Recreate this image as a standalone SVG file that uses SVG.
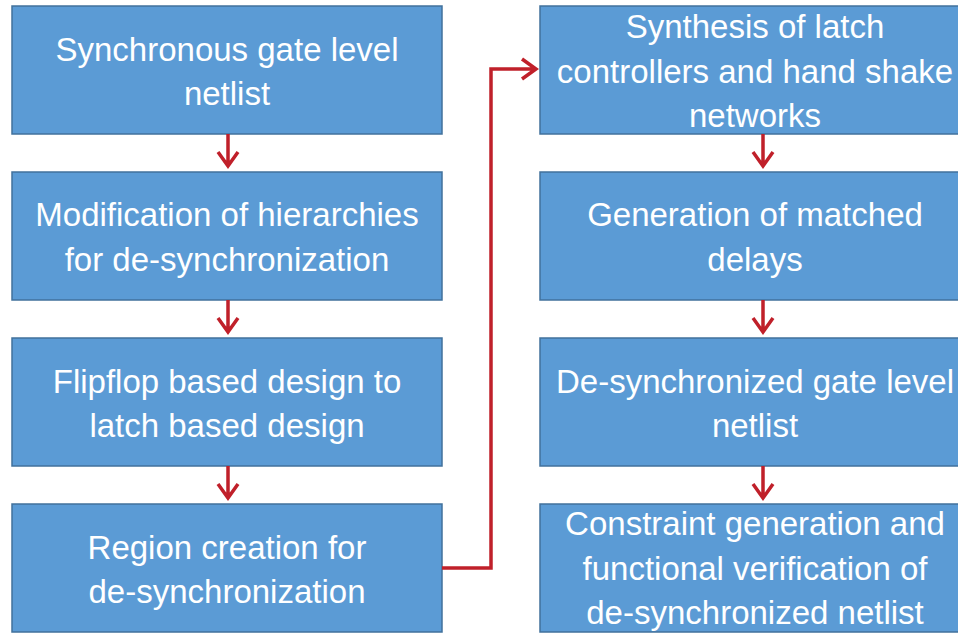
<svg xmlns="http://www.w3.org/2000/svg" width="958" height="634" viewBox="0 0 958 634">
  <style>
    .box { fill: #5B9BD5; stroke: #41719C; stroke-width: 1.5; }
    .lbl { font-family: "Liberation Sans", Arial, sans-serif; font-size: 33px; fill: #FFFFFF; text-anchor: middle; }
    .wire { fill: none; stroke: #C0202A; stroke-width: 3.5; }
  </style>
  <rect width="958" height="634" fill="#FFFFFF"/>

  <!-- left column -->
  <g id="n1">
    <rect class="box" x="12" y="6" width="430" height="128"/>
    <text class="lbl" x="227" y="61">Synchronous gate level</text>
    <text class="lbl" x="227" y="105">netlist</text>
  </g>
  <g id="n2">
    <rect class="box" x="12" y="172" width="430" height="128"/>
    <text class="lbl" x="227" y="226">Modification of hierarchies</text>
    <text class="lbl" x="227" y="271">for de-synchronization</text>
  </g>
  <g id="n3">
    <rect class="box" x="12" y="338" width="430" height="128"/>
    <text class="lbl" x="227" y="393">Flipflop based design to</text>
    <text class="lbl" x="227" y="437">latch based design</text>
  </g>
  <g id="n4">
    <rect class="box" x="12" y="504" width="430" height="128"/>
    <text class="lbl" x="227" y="559">Region creation for</text>
    <text class="lbl" x="227" y="603">de-synchronization</text>
  </g>

  <!-- right column -->
  <g id="n5">
    <rect class="box" x="540" y="6" width="430" height="128"/>
    <text class="lbl" x="755" y="38">Synthesis of latch</text>
    <text class="lbl" x="755" y="83">controllers and hand shake</text>
    <text class="lbl" x="755" y="127">networks</text>
  </g>
  <g id="n6">
    <rect class="box" x="540" y="172" width="430" height="128"/>
    <text class="lbl" x="755" y="226">Generation of matched</text>
    <text class="lbl" x="755" y="271">delays</text>
  </g>
  <g id="n7">
    <rect class="box" x="540" y="338" width="430" height="128"/>
    <text class="lbl" x="755" y="393">De-synchronized gate level</text>
    <text class="lbl" x="755" y="437">netlist</text>
  </g>
  <g id="n8">
    <rect class="box" x="540" y="504" width="430" height="128"/>
    <text class="lbl" x="755" y="535">Constraint generation and</text>
    <text class="lbl" x="755" y="580">functional verification of</text>
    <text class="lbl" x="755" y="624">de-synchronized netlist</text>
  </g>

  <!-- connectors: straight drops with open chevron heads, plus one elbow -->
  <g id="connectors">
    <path class="wire" d="M228 134 V166 M218 152 L228 166 L238 152"/>
    <path class="wire" d="M228 300 V332 M218 318 L228 332 L238 318"/>
    <path class="wire" d="M228 466 V498 M218 484 L228 498 L238 484"/>
    <path class="wire" d="M763 134 V166 M753 152 L763 166 L773 152"/>
    <path class="wire" d="M763 300 V332 M753 318 L763 332 L773 318"/>
    <path class="wire" d="M763 466 V498 M753 484 L763 498 L773 484"/>
    <path class="wire" d="M442 568 H491 V69 H536 M522 59 L536 69 L522 79"/>
  </g>
</svg>
